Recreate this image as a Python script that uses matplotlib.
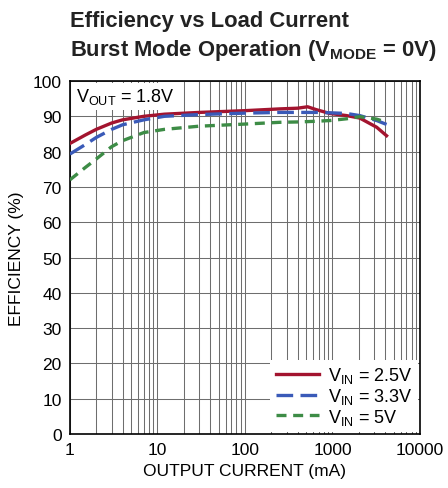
#!/usr/bin/env python3
"""
Efficiency vs load current, Burst Mode operation
"""
import matplotlib
matplotlib.use("Agg")
import matplotlib.pyplot as plt

plt.rcParams['font.family'] = ['Liberation Sans', 'DejaVu Sans']
plt.rcParams['mathtext.fontset'] = 'custom'
plt.rcParams['mathtext.rm'] = 'Liberation Sans'

# load current (mA)
current = [1, 1.5, 2, 3, 4, 7, 12, 30, 100, 250, 400, 520, 650, 935, 1450, 2050, 3200, 4150]

# efficiency (%) per input voltage
eff_25 = [82.3, 84.7, 86.3, 88.1, 89.0, 90.0, 90.6, 91.1, 91.6, 92.1, 92.3, 92.7, 91.9, 90.8, 90.2, 89.5, 86.9, 84.5]
eff_33 = [79.3, 82.0, 84.0, 86.3, 87.6, 89.0, 90.0, 90.5, 90.9, 91.1, 91.1, 91.1, 91.1, 91.0, 90.8, 90.2, 88.8, 87.7]
eff_50 = [72.0, 75.5, 77.9, 81.4, 83.1, 85.4, 86.3, 87.2, 87.8, 88.3, 88.4, 88.5, 88.6, 88.8, 89.3, 89.9, 89.2, 88.3]

series_labels = ['V$_\\mathregular{IN}$ = 2.5V',
                 'V$_\\mathregular{IN}$ = 3.3V',
                 'V$_\\mathregular{IN}$ = 5V']

fig = plt.figure(figsize=(4.48, 4.89), dpi=100)
ax = fig.add_axes([0.156, 0.1104, 0.7815, 0.7219])

ax.plot(current, eff_25, color='#a3142f', lw=2.4, label=series_labels[0], zorder=3)
ax.plot(current, eff_33, color='#3a5ab8', lw=2.4, dashes=(5, 2.2), label=series_labels[1], zorder=3)
ax.plot(current, eff_50, color='#3d8c46', lw=2.4, dashes=(3, 2), label=series_labels[2], zorder=3)

ax.set_xscale('log')
ax.set_xlim(1, 10000)
ax.set_ylim(0, 100)
ax.set_yticks(range(0, 101, 10))
ax.set_xticks([1, 10, 100, 1000, 10000])
ax.set_xticklabels(['1', '10', '100', '1000', '10000'])
ax.tick_params(which='both', length=0, labelsize=12.5, pad=6)
ax.grid(True, which='both', color='#6e6e6e', lw=0.75)
for s in ax.spines.values():
    s.set_linewidth(1.2)

ax.set_xlabel('OUTPUT CURRENT (mA)', fontsize=12.5, labelpad=4)
ax.set_ylabel('EFFICIENCY (%)', fontsize=12.5, labelpad=6)

ax.text(0.018, 0.985, 'V$_\\mathregular{OUT}$ = 1.8V', transform=ax.transAxes,
        fontsize=13, va='top', ha='left', zorder=4,
        bbox=dict(facecolor='white', edgecolor='none', pad=2.5))

leg = ax.legend(loc='lower right', fontsize=13, frameon=True, fancybox=False,
                edgecolor='none', framealpha=1, handlelength=2.4,
                borderpad=0.3, labelspacing=0.05, handletextpad=0.5,
                borderaxespad=0.1)
leg.set_zorder(5)

fig.text(0.156, 0.977, 'Efficiency vs Load Current', fontsize=15.8,
         fontweight='bold', color='#222222', va='top', ha='left')
fig.text(0.156, 0.922, 'Burst Mode Operation (V$_\\mathregular{MODE}$ = 0V)',
         fontsize=15.8, fontweight='bold', color='#222222', va='top', ha='left')

fig.savefig('out.png', dpi=100)
